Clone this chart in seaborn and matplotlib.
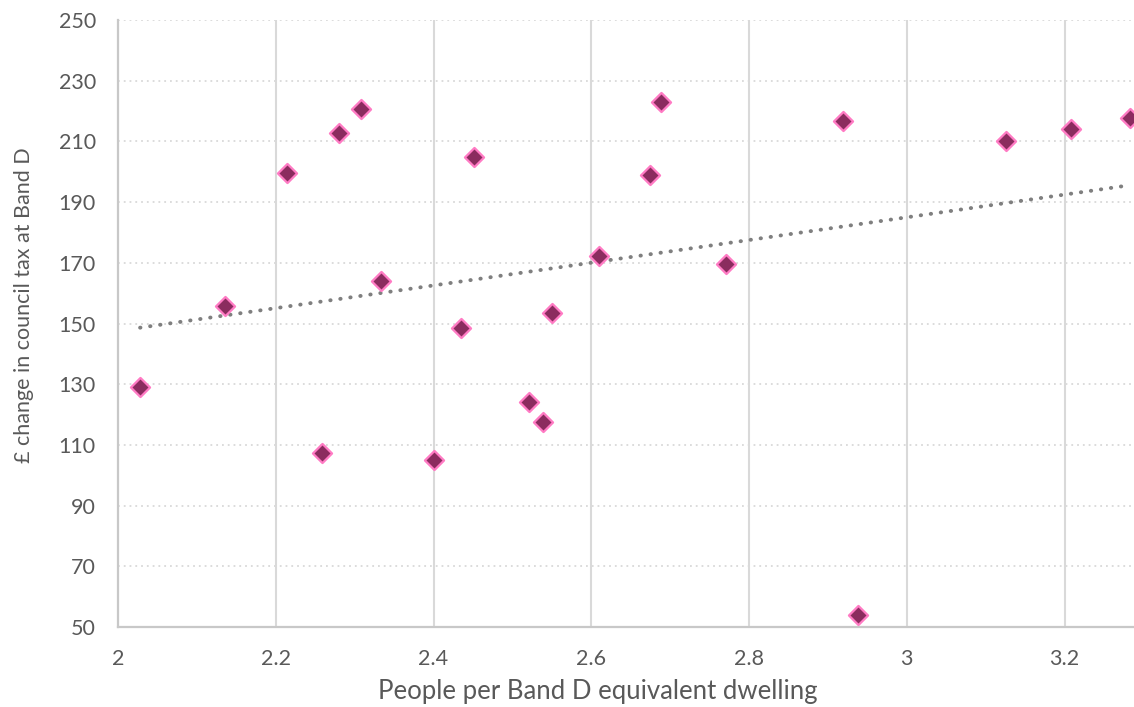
import numpy as np
import pandas as pd
import matplotlib
matplotlib.use('Agg')
import matplotlib.pyplot as plt
import seaborn as sns

# People per Band D equivalent dwelling vs change in council tax (£)
people_per_dwelling = [2.028, 2.136, 2.214, 2.259, 2.280, 2.308, 2.333, 2.401,
                       2.435, 2.451, 2.521, 2.539, 2.550, 2.610, 2.675, 2.689,
                       2.771, 2.919, 2.938, 3.126, 3.208, 3.283]
tax_change = [129.1, 155.8, 199.7, 107.4, 212.9, 220.8, 164.1, 105.1,
              148.6, 205.0, 124.2, 117.6, 153.5, 172.3, 199.0, 223.1,
              169.7, 216.8, 54.0, 210.2, 214.2, 217.8]

x_ticks = [2, 2.2, 2.4, 2.6, 2.8, 3, 3.2]
x_tick_labels = ['2', '2.2', '2.4', '2.6', '2.8', '3', '3.2']
y_ticks = list(range(50, 251, 20))

df = pd.DataFrame({'people': people_per_dwelling, 'change': tax_change})

sns.set_theme(style='white')
plt.rcParams['font.family'] = ['Lato', 'DejaVu Sans']

fig = plt.figure(figsize=(11.34, 7.07), dpi=100)
ax = fig.add_axes([118 / 1134, 80 / 707, 1 - 118 / 1134, 607 / 707])

text_col = '#595959'
grid_col = '#D9D9D9'

# gridlines: vertical solid, horizontal dotted
for xv in x_ticks[1:]:
    ax.axvline(xv, color=grid_col, lw=1.5, zorder=0)
for yv in y_ticks[1:]:
    ax.axhline(yv, color=grid_col, lw=1.3, ls=(0, (1, 2.2)), zorder=0)

sns.regplot(data=df, x='people', y='change', scatter=False, ci=None,
            truncate=True, ax=ax,
            line_kws=dict(color='#7F7F7F', lw=2.8, ls=(0, (0.1, 2.5)),
                          dash_capstyle='round', zorder=2))

sns.scatterplot(data=df, x='people', y='change', marker='D', s=95,
                color='#8B2C5F', edgecolor='#FF7BC4', linewidth=1.6,
                ax=ax, zorder=3, clip_on=True)

ax.set_xlim(2, 3.288)
ax.set_ylim(50, 250)
ax.set_xticks(x_ticks)
ax.set_xticklabels(x_tick_labels)
ax.set_yticks(y_ticks)

ax.tick_params(axis='both', length=0, labelsize=15.5, colors=text_col)
ax.tick_params(axis='x', pad=16)
ax.tick_params(axis='y', pad=16)

for side in ['top', 'right']:
    ax.spines[side].set_visible(False)
for side in ['left', 'bottom']:
    ax.spines[side].set_color('#C8C8C8')
    ax.spines[side].set_linewidth(1.6)

ax.set_xlabel('People per Band D equivalent dwelling', fontsize=18.5,
              color=text_col)
ax.set_ylabel('£ change in council tax at Band D', fontsize=15.5,
              color=text_col)
ax.xaxis.set_label_coords(0.472, -0.086)
ax.yaxis.set_label_coords(-0.083, 0.53)

fig.savefig('out.png', dpi=100)
